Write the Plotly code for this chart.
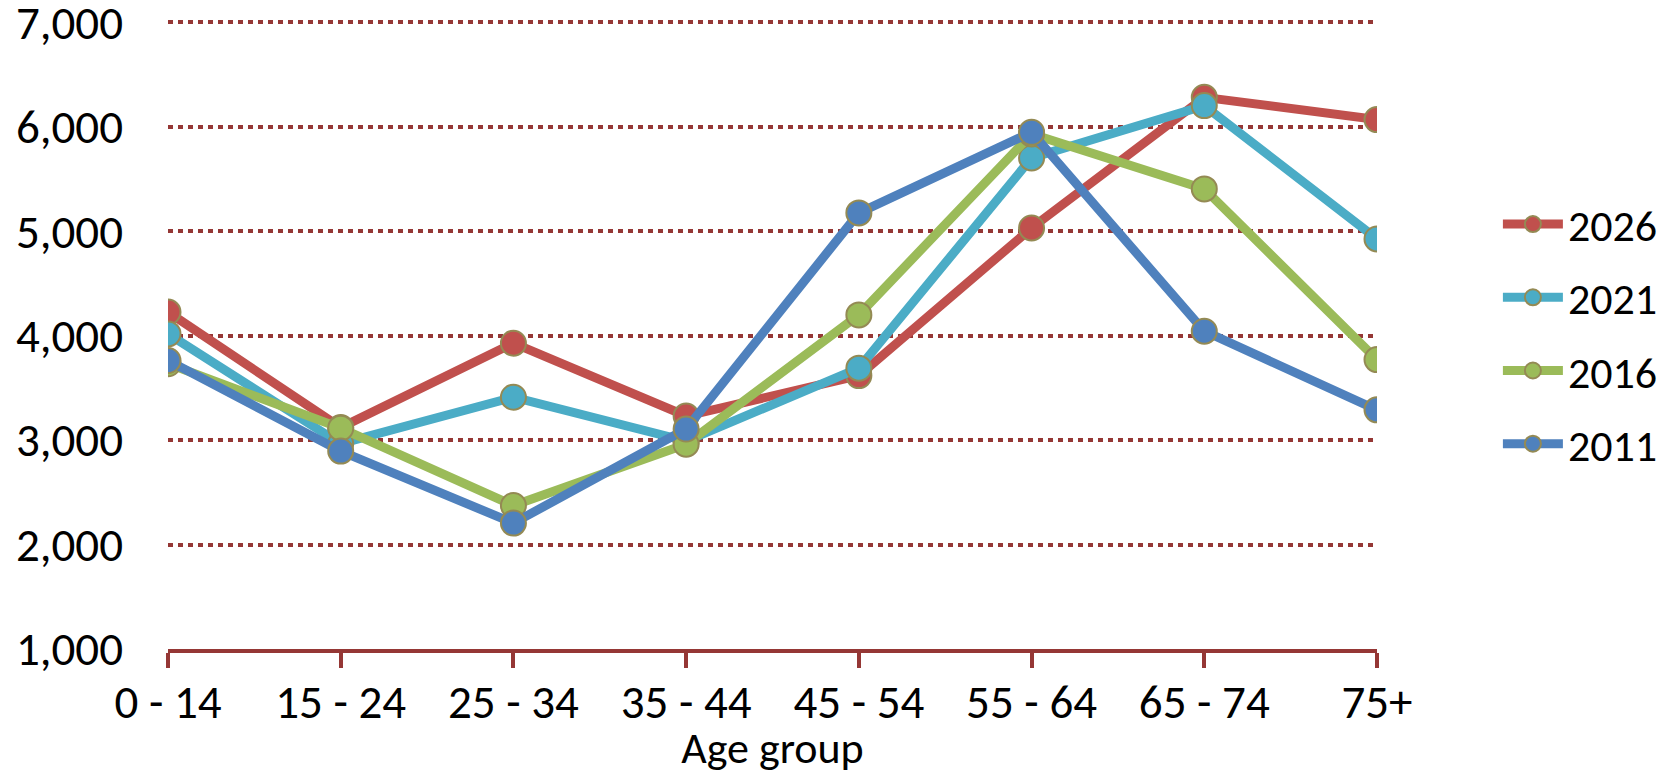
import plotly.graph_objects as go

age_groups = ["0 - 14", "15 - 24", "25 - 34", "35 - 44", "45 - 54", "55 - 64", "65 - 74", "75+"]
years = ["2026", "2021", "2016", "2011"]
pop_2026 = [4225, 3120, 3927, 3230, 3617, 5030, 6280, 6067]
pop_2021 = [4016, 2965, 3410, 2990, 3688, 5700, 6201, 4925]
pop_2016 = [3730, 3114, 2373, 2960, 4198, 5930, 5404, 3770]
pop_2011 = [3761, 2894, 2205, 3105, 5174, 5946, 4042, 3289]
y_ticks = [1000, 2000, 3000, 4000, 5000, 6000, 7000]

series = [pop_2026, pop_2021, pop_2016, pop_2011]
colors = ["#C0504D", "#4BACC6", "#9BBB59", "#4F81BD"]
axis_red = "#953735"
font_family = "Carlito, Lato, sans-serif"

fig = go.Figure()
for name, vals, col in zip(years, series, colors):
    fig.add_trace(go.Scatter(
        x=age_groups, y=vals, name=name, legendgroup=name,
        mode="lines+markers",
        line=dict(color=col, width=9),
        marker=dict(size=25, color=col, line=dict(color="#948A54", width=2)),
    ))

fig.update_layout(
    width=1678, height=775,
    margin=dict(l=168, r=301, t=19, b=126, pad=0),
    plot_bgcolor="white", paper_bgcolor="white",
    font=dict(family=font_family, size=47, color="black"),
    legend=dict(
        x=1.1, y=0.5, xanchor="left", yanchor="middle",
        traceorder="grouped", tracegroupgap=13,
        itemwidth=60, font=dict(size=44),
    ),
    xaxis=dict(
        type="category", range=[0, 7],
        showline=True, linecolor=axis_red, linewidth=4,
        ticks="outside", ticklen=15, tickwidth=4, tickcolor=axis_red,
        showgrid=False, ticklabelstandoff=-6, automargin=False,
        title=dict(text="Age group", font=dict(size=44), standoff=11),
    ),
    yaxis=dict(
        range=[1000, 7030], tickvals=y_ticks, tickformat=",d",
        showgrid=True, gridcolor=axis_red, gridwidth=4, griddash="5px,5px",
        zeroline=False, showline=False, ticks="", ticklabelstandoff=44,
        ticklabeloverflow="allow", automargin=False,
    ),
)

fig.write_html("out.html", config={"displayModeBar": False},
               post_script="document.body.style.margin='0';")
